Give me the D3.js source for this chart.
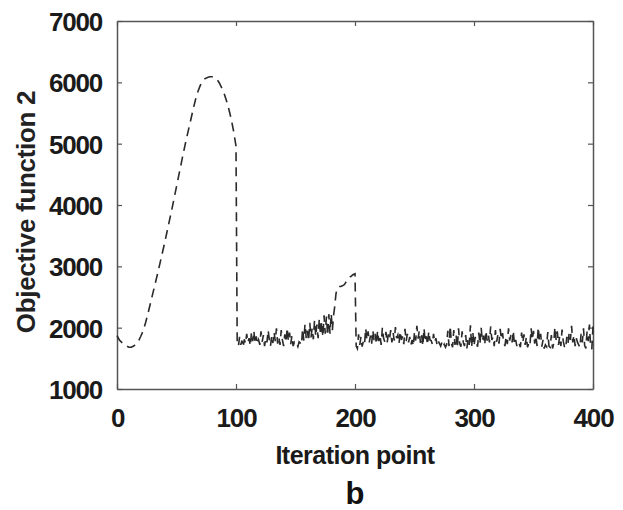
<!DOCTYPE html>
<html>
<head>
<meta charset="utf-8">
<script src="https://cdn.jsdelivr.net/npm/d3@7/dist/d3.min.js"></script>
<style>
  html, body { margin: 0; padding: 0; background: #fff; }
  svg { display: block; }
  text { font-family: "Liberation Sans", Arial, Helvetica, sans-serif; }
</style>
</head>
<body>
<svg id="chart" width="623" height="510"></svg>
<script>
// ---- data ----
const xTicks = [0, 100, 200, 300, 400];
const yTicks = [1000, 2000, 3000, 4000, 5000, 6000, 7000];
const xLabel = "Iteration point";
const yLabel = "Objective function 2";
const panelLabel = "b";

// phase 1: smooth rise and fall (iterations 0..100)
const iterA = [0,2,4,6,8,10,12,14,16,18,20,22,24,26,28,30,32,34,36,38,40,42,44,46,48,50,
  52,54,56,58,60,62,64,66,68,70,72,74,76,78,80,82,84,86,88,90,92,94,96,98,100];
const objA = [1870,1800,1760,1720,1700,1680,1680,1700,1730,1780,1860,1950,2080,2230,2390,2550,
  2710,2870,3040,3210,3380,3560,3740,3920,4110,4300,4490,4680,4870,5050,5220,5390,5560,5720,
  5850,5950,6020,6060,6080,6090,6090,6080,6050,5990,5910,5820,5700,5560,5400,5200,4960];

// phase 2: iterations 101..400, one value per iteration
const startB = 101;
const objB = [
  // 101-110
  1760,1700,1850,1720,1790,1680,1810,1740,1900,1760,
  // 111-120
  1830,1700,1920,1780,1950,1740,1860,1730,1800,1720,
  // 121-130
  1940,1770,1880,1700,1830,1760,1960,1800,1700,1870,
  // 131-140
  1750,1930,1780,1990,1740,1850,1720,1960,1800,1700,
  // 141-150
  1890,1760,2000,1780,1920,1730,1870,1700,1760,1720,
  // 151-160
  1740,1690,1770,1750,1720,1980,1790,2060,1830,1950,
  // 161-170
  1780,2080,1840,1990,1810,2120,1860,2050,1830,2150,
  // 171-180
  1880,2100,1850,2200,1900,2180,1870,2220,1900,2230,
  // 181-190
  1960,2200,2350,2550,2640,2660,2670,2670,2680,2690,
  // 191-200
  2700,2730,2760,2790,2810,2830,2840,2860,2870,2880,
  // 201-211
  1700,1660,1890,1720,1850,1690,1780,1730,1990,1800,1940,
  // 212-221
  1760,1870,1740,1960,1790,1900,1730,1950,1780,1880,
  // 222-231
  1720,2000,1830,1770,1930,1750,1890,1810,1960,1760,
  // 232-241
  1920,1790,2010,1830,1880,1740,1940,1800,1860,1730,
  // 242-251
  1980,1780,1900,1760,1850,1720,1800,1700,1930,1790,
  // 252-261
  2030,1820,1950,1750,1880,1700,1990,1770,1860,1720,
  // 262-271
  1940,1800,1790,1730,1900,1760,1830,1710,1780,1740,
  // 272-281
  1700,1760,1690,1730,1680,1720,1950,1700,2030,1750,
  // 282-291
  1680,1960,1720,1870,1670,1990,1740,1690,1940,1760,
  // 292-301
  1700,1880,1660,1820,1720,2040,1680,1930,1700,1850,
  // 302-311
  1750,1690,1920,1730,2000,1780,1870,1720,1950,1790,
  // 312-321
  1890,1760,2020,1800,1850,1700,1960,1770,1880,1740,
  // 322-331
  1980,1810,1910,1750,1700,1860,1730,1990,1790,1880,
  // 332-341
  1760,1950,1720,1800,1700,1770,1740,1680,1920,1760,
  // 342-351
  1890,1720,1850,1680,1740,1700,1990,1800,1950,1740,
  // 352-361
  1870,1700,2010,1780,1900,1690,1800,1660,1720,1690,
  // 362-371
  1930,1700,1680,1880,1660,1750,2010,1800,1940,1720,
  // 372-381
  1860,1700,1970,1780,1690,1660,1850,1740,1920,1800,
  // 382-391
  2030,1760,1880,1700,1830,1760,1720,1680,1900,1760,
  // 392-400
  1990,1710,1660,1940,1780,2050,1690,1650,2020
];

// ---- build table ----
const points = iterA.map((it, i) => ({ it: it, v: objA[i] }))
  .concat(objB.map((v, i) => ({ it: startB + i, v: v })));

// ---- layout ----
const margin = { left: 117, top: 21, right: 30, bottom: 121 };
const W = 623, H = 510;
const iw = W - margin.left - margin.right;   // 476
const ih = H - margin.top - margin.bottom;   // 368

const svg = d3.select("#chart");
const g = svg.append("g").attr("transform", `translate(${margin.left},${margin.top})`);

const x = d3.scaleLinear().domain([0, 400]).range([0, iw]);
const y = d3.scaleLinear().domain([1000, 7000]).range([ih, 0]);

const axisColor = "#555";

// bottom axis
const gx = g.append("g").attr("transform", `translate(0,${ih})`)
  .call(d3.axisBottom(x).tickValues(xTicks).tickSizeInner(-5).tickSizeOuter(0).tickFormat(d3.format("d")));
// top axis (ticks only)
const gxt = g.append("g")
  .call(d3.axisTop(x).tickValues(xTicks).tickSizeInner(-5).tickSizeOuter(0).tickFormat(""));
// left axis
const gy = g.append("g")
  .call(d3.axisLeft(y).tickValues(yTicks).tickSizeInner(-5).tickSizeOuter(0).tickFormat(d3.format("d")));
// right axis (ticks only)
const gyr = g.append("g").attr("transform", `translate(${iw},0)`)
  .call(d3.axisRight(y).tickValues(yTicks).tickSizeInner(-5).tickSizeOuter(0).tickFormat(""));

[gx, gxt, gy, gyr].forEach(a => {
  a.select(".domain").attr("stroke", axisColor).attr("stroke-width", 1.5);
  a.selectAll(".tick line").attr("stroke", axisColor).attr("stroke-width", 1.2);
});

gx.selectAll(".tick text")
  .attr("y", 38).attr("dy", 0)
  .attr("fill", "#1a1a1a")
  .style("font-size", "26px").style("font-weight", "bold")
  .style("letter-spacing", "-1.2px");

gy.selectAll(".tick text")
  .attr("x", -15).attr("dy", "0.36em")
  .attr("fill", "#1a1a1a")
  .style("font-size", "26px").style("font-weight", "bold")
  .style("letter-spacing", "-1.2px");

// ---- line ----
const line = d3.line().x(d => x(d.it)).y(d => y(d.v));

g.append("path")
  .datum(points)
  .attr("fill", "none")
  .attr("stroke", "#2a2a2a")
  .attr("stroke-width", 1.6)
  .attr("stroke-dasharray", "9,6")
  .attr("d", line);

// ---- labels ----
svg.append("text")
  .attr("x", margin.left + iw / 2).attr("y", 464)
  .attr("text-anchor", "middle")
  .attr("fill", "#1a1a1a")
  .style("font-size", "25px").style("font-weight", "bold")
  .style("letter-spacing", "-0.5px")
  .text(xLabel);

svg.append("text")
  .attr("transform", `translate(35,212) rotate(-90)`)
  .attr("text-anchor", "middle")
  .attr("fill", "#222")
  .style("font-size", "26px").style("font-weight", "bold")
  .style("letter-spacing", "-0.3px")
  .text(yLabel);

svg.append("text")
  .attr("x", 355).attr("y", 504)
  .attr("text-anchor", "middle")
  .attr("fill", "#111")
  .style("font-size", "31px").style("font-weight", "bold")
  .text(panelLabel);
</script>
</body>
</html>
